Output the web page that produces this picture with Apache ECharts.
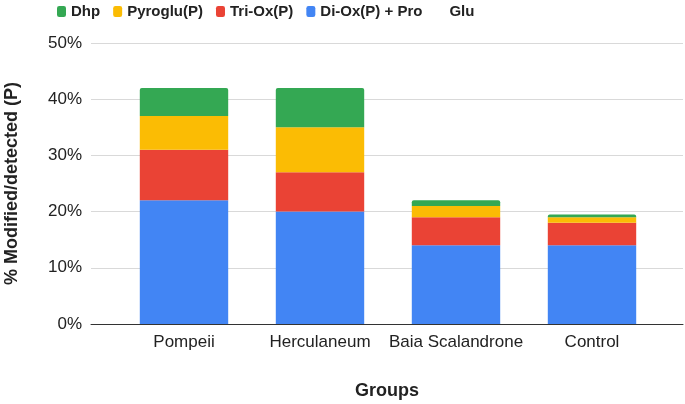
<!DOCTYPE html>
<html>
<head>
<meta charset="utf-8">
<script src="https://cdn.jsdelivr.net/npm/echarts@6/dist/echarts.min.js"></script>
<style>html,body{margin:0;padding:0;background:#fff;}#c{width:685px;height:404px;}</style>
</head>
<body>
<div id="c"></div>
<script>
const categories = ['Pompeii', 'Herculaneum', 'Baia Scalandrone', 'Control'];
const diOxPro = [22, 20, 14, 14];
const triOx = [9, 7, 5, 4];
const pyroglu = [6, 8, 2, 1];
const dhp = [5, 7, 1, 0.5];
const glu = [0, 0, 0, 0];
const yTicks = [0, 10, 20, 30, 40, 50];

const FONT = '"Liberation Sans", Arial, sans-serif';
const chart = echarts.init(document.getElementById('c'));
const barCommon = {
  type: 'bar', stack: 'total', xAxisIndex: 1, yAxisIndex: 1,
  barWidth: '65%'
};
chart.setOption({
  animation: false,
  backgroundColor: '#fff',
  textStyle: { fontFamily: FONT },
  legend: {
    top: -1, left: 52,
    itemWidth: 9, itemHeight: 11, itemGap: 13,
    textStyle: { fontFamily: FONT, fontWeight: 'bold', fontSize: 15, color: '#222' },
    data: [
      { name: 'Dhp', icon: 'roundRect' },
      { name: 'Pyroglu(P)', icon: 'roundRect' },
      { name: 'Tri-Ox(P)', icon: 'roundRect' },
      { name: 'Di-Ox(P) + Pro', icon: 'roundRect' },
      { name: 'Glu', icon: 'rect', itemStyle: { color: 'rgba(0,0,0,0)' } }
    ]
  },
  grid: [
    { left: 91, right: 2, top: 43, bottom: 80, outerBoundsMode: 'none', containLabel: false },
    { left: 116, right: 25, top: 43, bottom: 80, outerBoundsMode: 'none', containLabel: false }
  ],
  xAxis: [
    {
      type: 'category', gridIndex: 0, data: categories,
      name: 'Groups', nameLocation: 'middle', nameGap: 58,
      nameTextStyle: { fontFamily: FONT, fontWeight: 'bold', fontSize: 18, color: '#222' },
      axisLine: { show: true, lineStyle: { color: '#333', width: 1 } },
      axisTick: { show: false }, axisLabel: { show: false }, splitLine: { show: false }
    },
    {
      type: 'category', gridIndex: 1, data: categories,
      axisLine: { show: false }, axisTick: { show: false },
      axisLabel: { interval: 0, margin: 10, fontFamily: FONT, fontSize: 17, color: '#222' }
    }
  ],
  yAxis: [
    {
      type: 'value', gridIndex: 0, min: 0, max: 50, interval: 10,
      name: '% Modified/detected (P)', nameLocation: 'middle', nameGap: 70, nameRotate: 90,
      nameTextStyle: { fontFamily: FONT, fontWeight: 'bold', fontSize: 18, color: '#222' },
      axisLine: { show: false }, axisTick: { show: false },
      axisLabel: { margin: 9, fontFamily: FONT, fontSize: 17, color: '#222',
        formatter: v => (yTicks.indexOf(v) >= 0 ? v + '%' : '') },
      splitLine: { lineStyle: { color: '#d9d9d9', width: 1 } }
    },
    {
      type: 'value', gridIndex: 1, min: 0, max: 50, interval: 10,
      axisLine: { show: false }, axisTick: { show: false }, axisLabel: { show: false }, splitLine: { show: false }
    }
  ],
  series: [
    Object.assign({ name: 'Di-Ox(P) + Pro', data: diOxPro, itemStyle: { color: '#4285F4' } }, barCommon),
    Object.assign({ name: 'Tri-Ox(P)', data: triOx, itemStyle: { color: '#EA4335' } }, barCommon),
    Object.assign({ name: 'Pyroglu(P)', data: pyroglu, itemStyle: { color: '#FBBC04' } }, barCommon),
    Object.assign({ name: 'Dhp', data: dhp, itemStyle: { color: '#34A853', borderRadius: [2, 2, 0, 0] } }, barCommon),
    Object.assign({ name: 'Glu', data: glu, itemStyle: { color: 'rgba(0,0,0,0)' } }, barCommon)
  ]
});
</script>
</body>
</html>
